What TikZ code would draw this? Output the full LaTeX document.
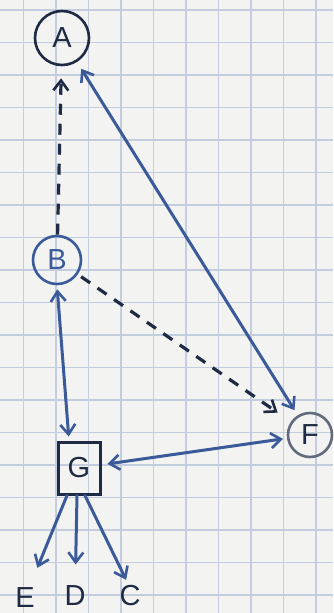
\documentclass[tikz,border=0pt]{standalone}
\usepackage{fontspec}
\setsansfont{Liberation Sans}
\usetikzlibrary{arrows.meta}
\definecolor{paper}{HTML}{F3F3F1}
\definecolor{gridc}{HTML}{C4CDE0}
\definecolor{ink}{HTML}{3A5A9A}
\definecolor{dark}{HTML}{1F2B45}
\tikzset{
  lbl/.style={font=\sffamily\fontsize{29}{29}\selectfont, text=dark},
  circ/.style={circle, draw=dark, line width=2.6pt, inner sep=0pt, lbl},
  boxn/.style={rectangle, draw=dark, line width=3pt, inner sep=0pt, lbl, minimum width=42pt, minimum height=52pt},
  tip/.style={-{Straight Barb[length=10pt,width=15pt,line width=2.6pt]}},
  tips/.style={{Straight Barb[length=10pt,width=15pt,line width=2.6pt]}-{Straight Barb[length=10pt,width=15pt,line width=2.6pt]}},
  solidc/.style={draw=ink, line width=3pt, line cap=round},
  dashc/.style={draw=dark, line width=3.2pt, dash pattern=on 11pt off 9pt},
}
\begin{document}
\begin{tikzpicture}[x=1pt,y=-1pt]
  \fill[paper] (0,0) rectangle (333,613);
  \useasboundingbox (0,0) rectangle (333,613);
  \foreach \gx in {23.5,56,88.5,121,153.5,186,218.5,251,283.5,316}
    \draw[gridc, line width=1.2pt] (\gx,0) -- (\gx,613);
  \foreach \gy in {10,42.5,75,107.5,140,172.5,205,237.5,270,302.5,335,367.5,400,432.5,465,497.5,530,562.5,595}
    \draw[gridc, line width=1.2pt] (0,\gy) -- (333,\gy);

  \node[circ, minimum size=54pt] (A) at (62,38) {A};
  \node[circ, minimum size=48pt, draw=ink, text=ink] (B) at (57,260) {B};
  \node[boxn] (G) at (79,468) {G};
  \node[circ, minimum size=44pt, draw=dark!70] (F) at (310,435) {F};
  \node[lbl] (E) at (25,598) {E};
  \node[lbl] (D) at (75,596) {D};
  \node[lbl] (C) at (130,596) {C};

  \draw[dashc, tip, shorten >=12pt] (B) -- (A);
  \draw[solidc, tips, shorten <=8pt, shorten >=6pt] (A) -- (F);
  \draw[dashc, tip, shorten >=16pt, shorten <=4pt] (B) -- (F);
  \draw[solidc, tips, shorten <=4pt, shorten >=4pt] (B.south) -- ([xshift=-10pt]G.north);
  \draw[solidc, tips, shorten <=6pt, shorten >=4pt] (G) -- (F);
  \draw[solidc, tip, shorten >=18pt] ([xshift=-12pt]G.south) -- (E);
  \draw[solidc, tip, shorten >=18pt] ([xshift=-2pt]G.south) -- (D);
  \draw[solidc, tip, shorten >=18pt] ([xshift=6pt]G.south) -- ([xshift=4pt]C.center);
\end{tikzpicture}
\end{document}
